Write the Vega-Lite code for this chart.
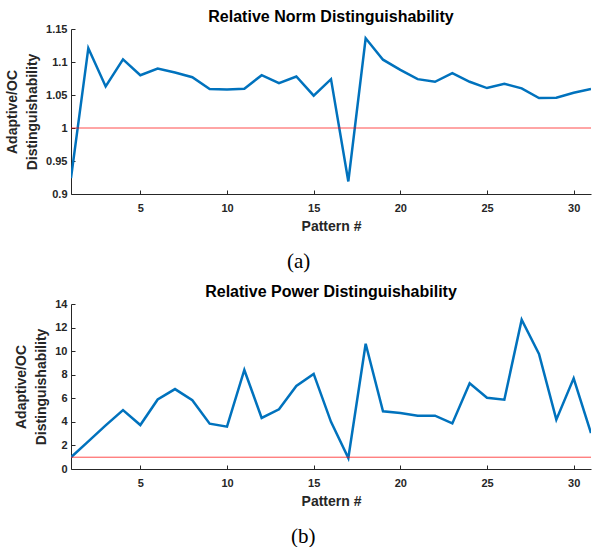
{
  "$schema": "https://vega.github.io/schema/vega-lite/v6.json",
  "padding": {"left": 5, "right": 0, "top": 9, "bottom": 0},
  "background": "white",
  "spacing": 12,
  "datasets": {
    "d": [
      {"pattern": 1, "norm": 0.924, "power": 1.0},
      {"pattern": 2, "norm": 1.121, "power": 2.35},
      {"pattern": 3, "norm": 1.063, "power": 3.7},
      {"pattern": 4, "norm": 1.104, "power": 5.0},
      {"pattern": 5, "norm": 1.080, "power": 3.73},
      {"pattern": 6, "norm": 1.090, "power": 5.9},
      {"pattern": 7, "norm": 1.084, "power": 6.78},
      {"pattern": 8, "norm": 1.077, "power": 5.83},
      {"pattern": 9, "norm": 1.059, "power": 3.85},
      {"pattern": 10, "norm": 1.0585, "power": 3.59},
      {"pattern": 11, "norm": 1.0595, "power": 8.4},
      {"pattern": 12, "norm": 1.080, "power": 4.33},
      {"pattern": 13, "norm": 1.068, "power": 5.06},
      {"pattern": 14, "norm": 1.078, "power": 7.05},
      {"pattern": 15, "norm": 1.049, "power": 8.07},
      {"pattern": 16, "norm": 1.074, "power": 4.0},
      {"pattern": 17, "norm": 0.919, "power": 0.93},
      {"pattern": 18, "norm": 1.136, "power": 10.63},
      {"pattern": 19, "norm": 1.1035, "power": 4.89},
      {"pattern": 20, "norm": 1.088, "power": 4.75},
      {"pattern": 21, "norm": 1.074, "power": 4.52},
      {"pattern": 22, "norm": 1.070, "power": 4.52},
      {"pattern": 23, "norm": 1.083, "power": 3.87},
      {"pattern": 24, "norm": 1.070, "power": 7.27},
      {"pattern": 25, "norm": 1.0605, "power": 6.05},
      {"pattern": 26, "norm": 1.067, "power": 5.88},
      {"pattern": 27, "norm": 1.060, "power": 12.67},
      {"pattern": 28, "norm": 1.0455, "power": 9.76},
      {"pattern": 29, "norm": 1.046, "power": 4.19},
      {"pattern": 30, "norm": 1.0535, "power": 7.69},
      {"pattern": 31, "norm": 1.059, "power": 3.05}
    ],
    "ref": [{"ref": 1}]
  },
  "config": {
    "view": {"stroke": null},
    "font": "Liberation Sans",
    "title": {"font": "Liberation Sans", "fontSize": 16, "fontWeight": "bold", "color": "#000000"},
    "axis": {
      "grid": false,
      "domainColor": "#262626",
      "tickColor": "#262626",
      "labelColor": "#262626",
      "titleColor": "#262626",
      "labelFont": "Liberation Sans",
      "labelFontWeight": "bold",
      "labelFontSize": 11,
      "labelOverlap": false,
      "labelFlush": false,
      "titleFont": "Liberation Sans",
      "titleFontWeight": "bold",
      "titleFontSize": 14,
      "tickSize": -4,
      "domainWidth": 1,
      "tickWidth": 1
    },
    "axisX": {"labelPadding": 12, "titlePadding": 6},
    "axisY": {"labelPadding": 8, "titlePadding": 6, "titleLineHeight": 20}
  },
  "vconcat": [
    {
      "title": {"text": "(a)", "orient": "bottom", "anchor": "middle", "frame": "bounds", "font": "Liberation Serif", "fontSize": 21, "fontWeight": "normal", "color": "#000000", "offset": 18},
      "vconcat": [
        {
          "title": {"text": "Relative Norm Distinguishability", "frame": "group", "offset": -2},
          "width": 520,
          "height": 165,
          "layer": [
            {
              "data": {"name": "d"},
              "mark": {"type": "line", "color": "#0072BD", "strokeWidth": 2.5, "clip": true},
              "encoding": {
                "x": {"field": "pattern", "type": "quantitative", "title": "Pattern #", "scale": {"domain": [1, 31], "nice": false, "zero": false}, "axis": {"values": [5, 10, 15, 20, 25, 30], "labelOverlap": false}},
                "y": {"field": "norm", "type": "quantitative", "title": ["Adaptive/OC", "Distinguishability"], "scale": {"domain": [0.9, 1.15], "nice": false, "zero": false}, "axis": {"values": [0.9, 0.95, 1, 1.05, 1.1, 1.15], "format": "~g", "labelOverlap": false, "labelBound": false}}
              }
            },
            {
              "data": {"name": "ref"},
              "mark": {"type": "rule", "color": "#FF0000", "strokeWidth": 1, "opacity": 0.7},
              "encoding": {"y": {"field": "ref", "type": "quantitative", "title": ["Adaptive/OC", "Distinguishability"], "axis": {"values": [0.9, 0.95, 1, 1.05, 1.1, 1.15], "format": "~g", "labelOverlap": false, "labelBound": false}}}
            }
          ]
        }
      ]
    },
    {
      "title": {"text": "(b)", "orient": "bottom", "anchor": "middle", "frame": "bounds", "font": "Liberation Serif", "fontSize": 21, "fontWeight": "normal", "color": "#000000", "offset": 18},
      "vconcat": [
        {
          "title": {"text": "Relative Power Distinguishability", "frame": "group", "offset": -2},
          "width": 520,
          "height": 165,
          "layer": [
            {
              "data": {"name": "d"},
              "mark": {"type": "line", "color": "#0072BD", "strokeWidth": 2.5, "clip": true},
              "encoding": {
                "x": {"field": "pattern", "type": "quantitative", "title": "Pattern #", "scale": {"domain": [1, 31], "nice": false, "zero": false}, "axis": {"values": [5, 10, 15, 20, 25, 30], "labelOverlap": false}},
                "y": {"field": "power", "type": "quantitative", "title": ["Adaptive/OC", "Distinguishability"], "scale": {"domain": [0, 14], "nice": false, "zero": false}, "axis": {"values": [0, 2, 4, 6, 8, 10, 12, 14], "labelOverlap": false, "labelBound": false}}
              }
            },
            {
              "data": {"name": "ref"},
              "mark": {"type": "rule", "color": "#FF0000", "strokeWidth": 1, "opacity": 0.7},
              "encoding": {"y": {"field": "ref", "type": "quantitative", "title": ["Adaptive/OC", "Distinguishability"], "axis": {"values": [0, 2, 4, 6, 8, 10, 12, 14], "labelOverlap": false, "labelBound": false}}}
            }
          ]
        }
      ]
    }
  ]
}
